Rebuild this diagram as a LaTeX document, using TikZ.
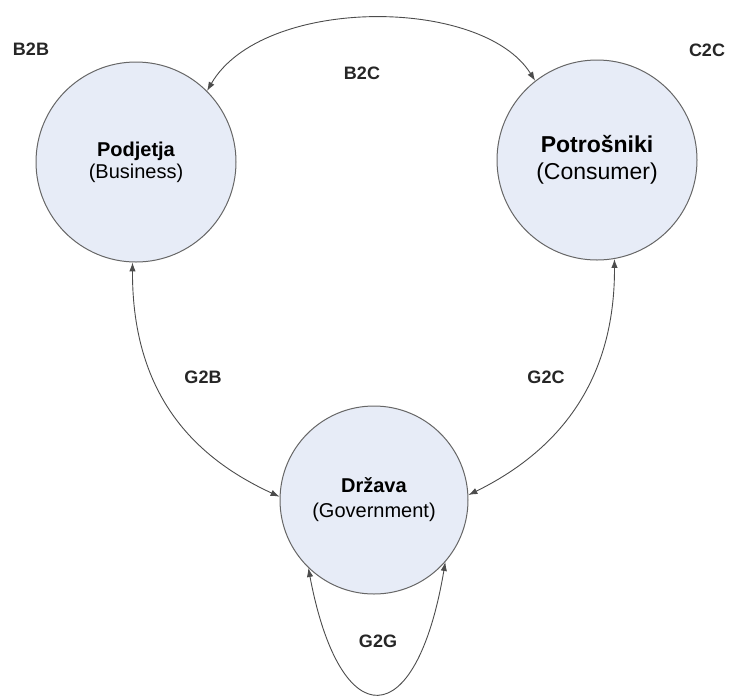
\documentclass[tikz,border=0pt]{standalone}
\usepackage{fontspec}
\setmainfont{Liberation Sans}
\usetikzlibrary{arrows.meta}
\definecolor{diskfill}{HTML}{E7ECF7}
\tikzset{
  party/.style={circle, draw=gray!80!black, fill=diskfill, line width=0.5pt,
                minimum size=100pt, inner sep=0pt, align=center,
                font=\fontsize{10}{11}\selectfont},
  link/.style={draw=gray!60!black, line width=0.45pt,
               {Latex[length=4.5pt,width=3.2pt]}-{Latex[length=4.5pt,width=3.2pt]}},
  tag/.style={font=\fontsize{9}{10}\selectfont\bfseries, text=black!85},
}
\begin{document}
\begin{tikzpicture}[x=0.5pt, y=-0.5pt]
  \useasboundingbox (0,0) rectangle (734,697);
  % the three parties
  \node[party] (bus) at (136,162) {\textbf{Podjetja}\\(Business)};
  \node[party, font=\fontsize{11.5}{13.5}\selectfont] (con) at (597,160)
       {\textbf{Potrošniki}\\(Consumer)};
  \node[party, minimum size=94pt, font=\fontsize{10}{12.5}\selectfont] (gov) at (374,500)
       {\textbf{Država}\\(Government)};
  % connections between parties
  \draw[link] (bus.45) .. controls (262,-4) and (482,-4) .. (con.128);
  \draw[link] (bus.268) .. controls (132,400) and (200,460) .. (gov.178);
  \draw[link] (con.280) .. controls (615,380) and (560,450) .. (gov.3);
  % government to government
  \draw[link] (gov.226) .. controls (340,736) and (416,736) .. (gov.319);
  % relation labels
  \node[tag] (b2b) at (31,49) {B2B};
  \node[tag] (b2c) at (362,73) {B2C};
  \node[tag] (c2c) at (707,50) {C2C};
  \node[tag] (g2b) at (203,377) {G2B};
  \node[tag] (g2c) at (546,377) {G2C};
  \node[tag] (g2g) at (378,641) {G2G};
\end{tikzpicture}
\end{document}
